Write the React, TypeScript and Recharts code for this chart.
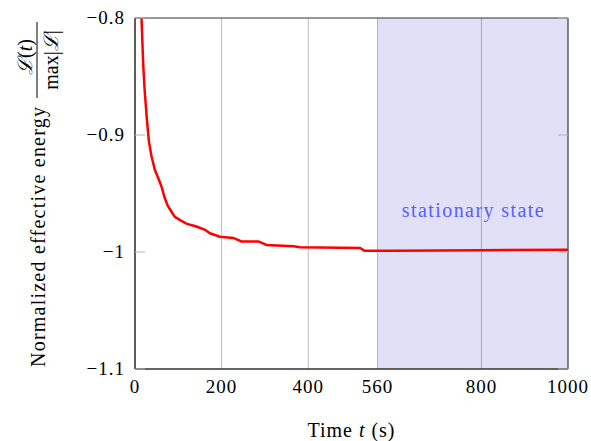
import {
  ComposedChart,
  Line,
  XAxis,
  YAxis,
  CartesianGrid,
  ReferenceArea,
  Label,
} from "recharts";

const times = [
  15, 17, 19, 22, 27, 32, 38, 46, 55, 62, 68, 75, 85, 92, 105, 120, 140, 162, 173, 196,
  227, 246, 285, 304, 366, 381, 520, 530, 600, 800, 1000,
];
const energy = [
  -0.8, -0.82, -0.84, -0.86, -0.885, -0.905, -0.918, -0.93, -0.938, -0.945, -0.953, -0.96,
  -0.966, -0.97, -0.973, -0.976, -0.978, -0.981, -0.984, -0.987, -0.988, -0.991, -0.991,
  -0.994, -0.995, -0.996, -0.9965, -0.999, -0.999, -0.9985, -0.998,
];
const xTicks = [0, 200, 400, 560, 800, 1000];
const yTicks = [-1.1, -1, -0.9, -0.8];
const stationaryStart = 560;
const stationaryEnd = 1000;

const data = times.map((t, i) => ({ t, e: energy[i] }));

const FONT = "Liberation Serif";
const PLOT_LEFT = 135;
const PLOT_RIGHT = 568;
const PLOT_BOTTOM = 369;

const fmt = (v: number) => (v < 0 ? "\u2212" + String(Math.abs(v)) : String(v));

const XTick = ({ x, payload }: any) => (
  <text
    x={x}
    y={PLOT_BOTTOM + 24}
    textAnchor="middle"
    fontFamily={FONT}
    fontSize={19}
    letterSpacing={1}
    fill="#000"
  >
    {payload.value}
  </text>
);

const YTick = ({ y, payload }: any) => (
  <g>
    <line x1={PLOT_LEFT} x2={PLOT_LEFT + 10} y1={y} y2={y} stroke="#b5b5b5" />
    <line x1={PLOT_RIGHT - 10} x2={PLOT_RIGHT} y1={y} y2={y} stroke="#b5b5b5" />
    <text
      x={125}
      y={y + 6}
      textAnchor="end"
      fontFamily={FONT}
      fontSize={19}
      letterSpacing={1}
      fill="#000"
    >
      {fmt(payload.value)}
    </text>
  </g>
);

const XLabel = () => (
  <text
    x={351}
    y={437}
    textAnchor="middle"
    fontFamily={FONT}
    fontSize={20}
    textLength={87}
    lengthAdjust="spacing"
    fill="#000"
  >
    Time <tspan fontStyle="italic">t</tspan> (s)
  </text>
);

const YLabel = () => (
  <g fontFamily={FONT} fill="#000">
    <text
      x={45}
      y={237}
      textAnchor="middle"
      fontSize={20}
      textLength={260}
      lengthAdjust="spacing"
      transform="rotate(-90, 45, 237)"
    >
      Normalized effective energy
    </text>
    <text x={32} y={57} textAnchor="middle" fontSize={20} transform="rotate(-90, 32, 57)">
      <tspan fontStyle="italic">ℒ</tspan>(<tspan fontStyle="italic">t</tspan>)
    </text>
    <line x1={37} x2={37} y1={22} y2={98} stroke="#000" strokeWidth={1} />
    <text x={58} y={60} textAnchor="middle" fontSize={20} transform="rotate(-90, 58, 60)">
      max|<tspan fontStyle="italic">ℒ</tspan>|
    </text>
  </g>
);

export default function App() {
  return (
    <div style={{ position: "absolute", left: 0, top: 0, background: "#fff" }}>
      <ComposedChart
        width={591}
        height={441}
        data={data}
        margin={{ top: 18, right: 23, left: 75, bottom: 42 }}
      >
        <ReferenceArea
          x1={stationaryStart}
          x2={stationaryEnd}
          y1={-1.1}
          y2={-0.8}
          fill="#0000b4"
          fillOpacity={0.12}
          stroke="none"
          label={{
            value: "stationary state",
            position: "center",
            dy: 16,
            fill: "#5c5cff",
            fontFamily: FONT,
            fontSize: 20,
            textLength: 142,
            lengthAdjust: "spacing",
          }}
        />
        <CartesianGrid horizontal={false} stroke="#bdbdbd" strokeWidth={1} />
        <XAxis
          dataKey="t"
          type="number"
          domain={[0, 1000]}
          ticks={xTicks}
          tick={<XTick />}
          tickLine={false}
          axisLine={{ stroke: "#333" }}
          height={30}
          interval={0}
        >
          <Label content={<XLabel />} />
        </XAxis>
        <YAxis
          type="number"
          domain={[-1.1, -0.8]}
          ticks={yTicks}
          tick={<YTick />}
          tickLine={false}
          axisLine={{ stroke: "#333" }}
          width={60}
          interval={0}
        >
          <Label content={<YLabel />} />
        </YAxis>
        <Line
          dataKey="e"
          type="linear"
          stroke="#ff0000"
          strokeWidth={2.5}
          dot={false}
          isAnimationActive={false}
        />
        <ReferenceArea
          x1={0}
          x2={1000}
          y1={-1.1}
          y2={-0.8}
          fill="none"
          stroke="#333"
          strokeWidth={1}
        />
      </ComposedChart>
    </div>
  );
}
